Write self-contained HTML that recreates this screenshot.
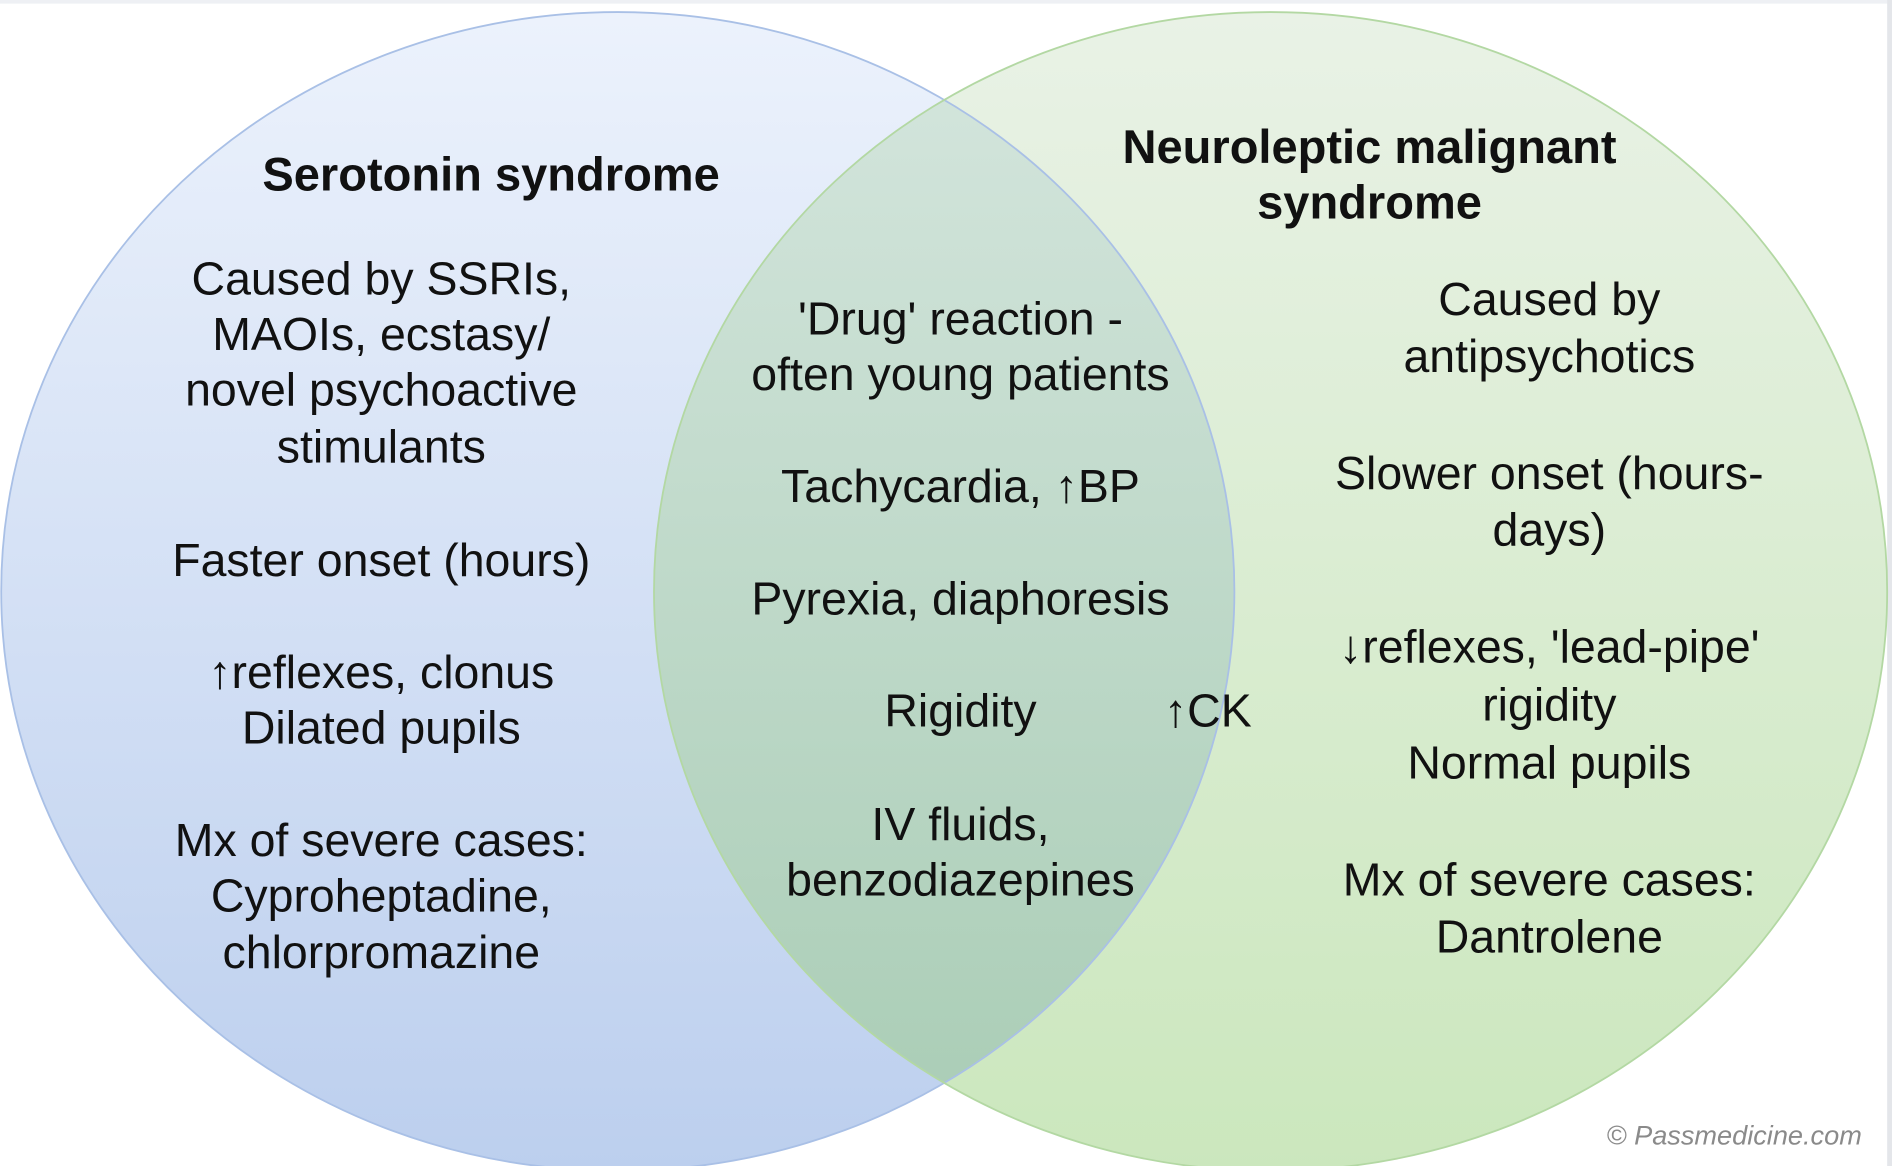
<!DOCTYPE html>
<html><head><meta charset="utf-8"><style>
html,body{margin:0;padding:0;background:#fff;width:1892px;height:1166px;overflow:hidden}
svg{display:block}
text{font-family:"Liberation Sans",Arial,sans-serif;fill:#111;text-anchor:middle}
.b{font-size:38.5px}
.h{font-size:39px;font-weight:bold}
</style></head><body>
<svg width="1892" height="1166" viewBox="0 0 1568 966" preserveAspectRatio="none" xmlns="http://www.w3.org/2000/svg">
<defs>
<linearGradient id="gl" x1="0" y1="0" x2="0" y2="1"><stop offset="0" stop-color="#ecf2fc"/><stop offset="1" stop-color="#bccfee"/></linearGradient>
<linearGradient id="gr" x1="0" y1="0" x2="0" y2="1"><stop offset="0" stop-color="#e9f2e6"/><stop offset="1" stop-color="#cbe7bd"/></linearGradient>
<linearGradient id="go" x1="0" y1="0" x2="0" y2="1"><stop offset="0" stop-color="#d5e6de"/><stop offset="1" stop-color="#a8ccb4"/></linearGradient>
<clipPath id="cl"><ellipse cx="512" cy="490" rx="511" ry="480"/></clipPath>
</defs>
<rect x="0" y="0" width="1568" height="3" fill="#eef0f4"/>
<rect x="1564" y="0" width="4" height="966" fill="#e4e6ea"/>
<ellipse cx="512" cy="490" rx="511" ry="480" fill="url(#gl)"/>
<ellipse cx="1053" cy="490" rx="511" ry="480" fill="url(#gr)"/>
<ellipse cx="1053" cy="490" rx="511" ry="480" fill="url(#go)" clip-path="url(#cl)"/>
<ellipse cx="512" cy="490" rx="511" ry="480" fill="none" stroke="#a9c0e6" stroke-width="1.5"/>
<ellipse cx="1053" cy="490" rx="511" ry="480" fill="none" stroke="#b3d8a3" stroke-width="1.5"/>

<text class="h" x="407" y="158">Serotonin syndrome</text>
<text class="h" x="1135" y="135">Neuroleptic malignant</text>
<text class="h" x="1135" y="181">syndrome</text>

<text class="b" x="316" y="244">Caused by SSRIs,</text>
<text class="b" x="316" y="290">MAOIs, ecstasy/</text>
<text class="b" x="316" y="336">novel psychoactive</text>
<text class="b" x="316" y="383">stimulants</text>
<text class="b" x="316" y="477">Faster onset (hours)</text>
<text class="b" x="316" y="570">↑reflexes, clonus</text>
<text class="b" x="316" y="616">Dilated pupils</text>
<text class="b" x="316" y="709">Mx of severe cases:</text>
<text class="b" x="316" y="755">Cyproheptadine,</text>
<text class="b" x="316" y="802">chlorpromazine</text>

<text class="b" x="796" y="277">'Drug' reaction -</text>
<text class="b" x="796" y="323">often young patients</text>
<text class="b" x="796" y="416">Tachycardia, ↑BP</text>
<text class="b" x="796" y="509">Pyrexia, diaphoresis</text>
<text class="b" x="796" y="602">Rigidity</text>
<text class="b" x="1001" y="602">↑CK</text>
<text class="b" x="796" y="696">IV fluids,</text>
<text class="b" x="796" y="742">benzodiazepines</text>

<text class="b" x="1284" y="261">Caused by</text>
<text class="b" x="1284" y="308">antipsychotics</text>
<text class="b" x="1284" y="405">Slower onset (hours-</text>
<text class="b" x="1284" y="452">days)</text>
<text class="b" x="1284" y="549">↓reflexes, 'lead-pipe'</text>
<text class="b" x="1284" y="597">rigidity</text>
<text class="b" x="1284" y="645">Normal pupils</text>
<text class="b" x="1284" y="742">Mx of severe cases:</text>
<text class="b" x="1284" y="789">Dantrolene</text>

<text x="1543" y="948" style="font-size:22.5px;font-style:italic;fill:#8a8a8a;text-anchor:end">© Passmedicine.com</text>
</svg>
</body></html>
